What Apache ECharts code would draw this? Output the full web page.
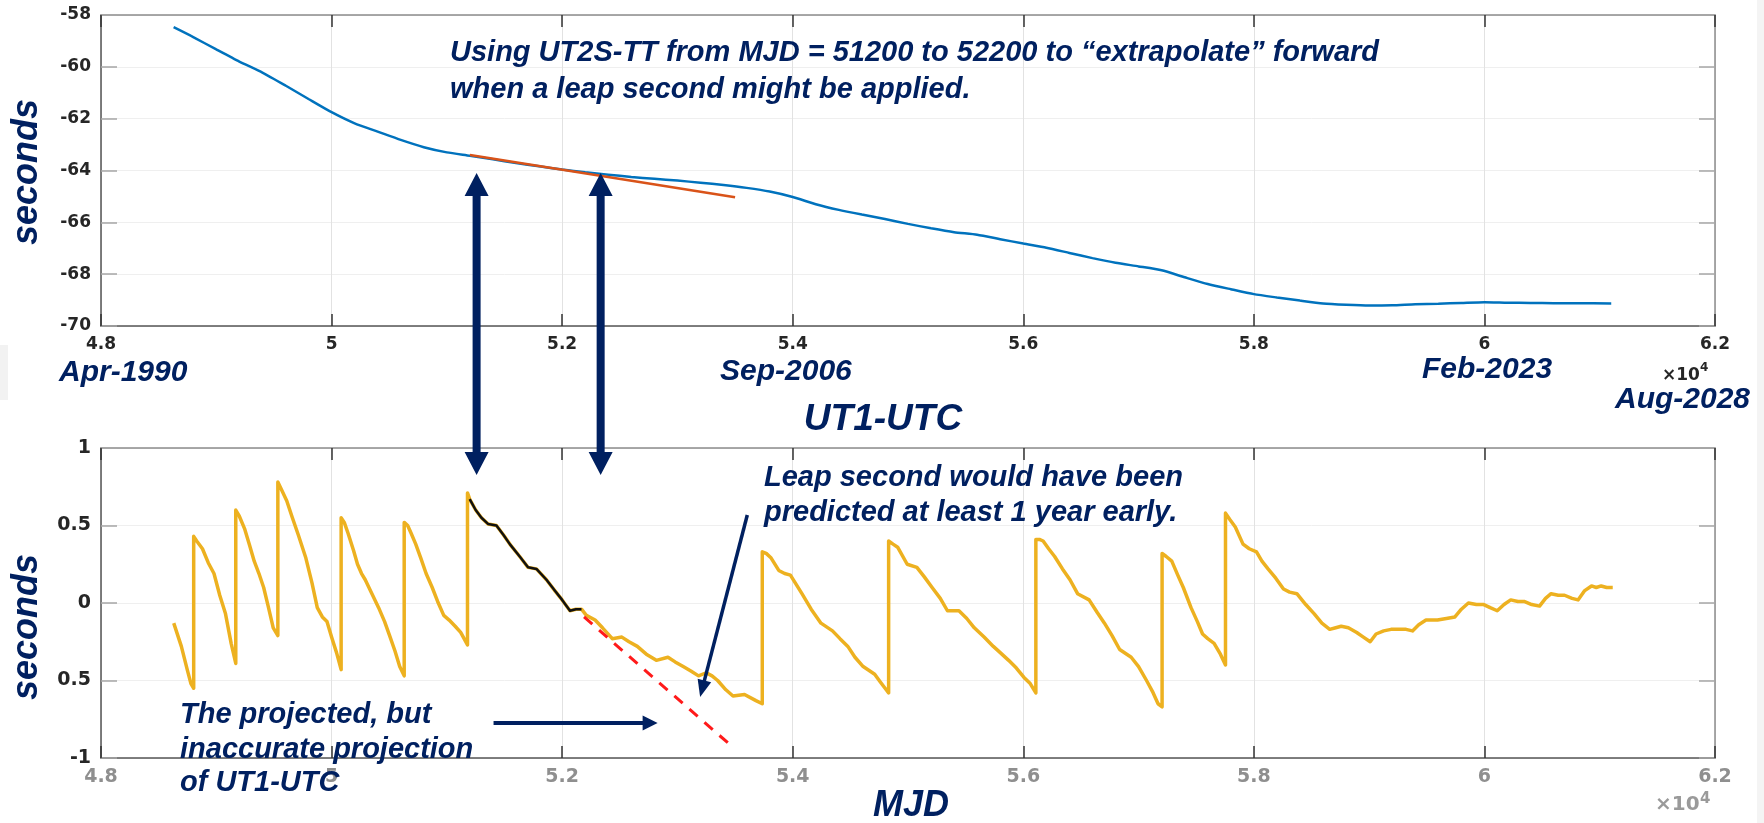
<!DOCTYPE html>
<html><head><meta charset="utf-8">
<script src="https://cdn.jsdelivr.net/npm/echarts@6/dist/echarts.min.js"></script>
<style>html,body{margin:0;padding:0;background:#fff}#c{width:1764px;height:823px}</style>
</head><body><div id="c"></div>
<script>
// ---------------- data ----------------
const xTickLabels = ['4.8','5','5.2','5.4','5.6','5.8','6','6.2'];
const topYTickLabels = ['-70','-68','-66','-64','-62','-60','-58'];
const botYTickLabels = ['-1','0.5','0','0.5','1'];

// UT2S-TT (top, blue)
const ut2sMjd = [48630,48800,49000,49200,49400,49600,49800,50000,50200,50400,50600,50800,51000,51200,51400,51600,51800,52000,52200,52400,52600,52800,53000,53200,53400,53600,53800,54000,54200,54400,54600,54800,55000,55200,55400,55600,55800,56000,56200,56400,56600,56800,57000,57200,57400,57600,57800,58000,58200,58400,58600,58800,59000,59200,59400,59600,59800,60000,60200,60400,60600,60800,61100];
const ut2sVal = [-58.47,-58.85,-59.33,-59.80,-60.22,-60.72,-61.24,-61.75,-62.18,-62.50,-62.82,-63.10,-63.30,-63.43,-63.57,-63.71,-63.84,-63.96,-64.07,-64.16,-64.25,-64.32,-64.39,-64.47,-64.56,-64.67,-64.81,-65.02,-65.30,-65.52,-65.70,-65.87,-66.06,-66.23,-66.38,-66.48,-66.65,-66.82,-66.98,-67.18,-67.38,-67.56,-67.70,-67.85,-68.12,-68.38,-68.58,-68.77,-68.90,-69.02,-69.13,-69.18,-69.21,-69.20,-69.16,-69.14,-69.11,-69.08,-69.10,-69.11,-69.12,-69.12,-69.13];

// linear extrapolation of UT2S-TT (top, orange)
const extrapMjd = [51200, 53500];
const extrapVal = [-63.40, -65.03];

// UT1-UTC (bottom, yellow)
const ut1Mjd = [48631,48697,48748,48780,48804,48804,48830,48880,48930,48980,49030,49080,49129,49169,49169,49200,49245,49290,49329,49370,49411,49450,49494,49534,49534,49560,49611,49660,49711,49777,49830,49876,49920,49960,50000,50043,50083,50083,50110,50143,50190,50225,50260,50292,50350,50408,50460,50508,50550,50591,50630,50630,50660,50690,50730,50774,50820,50873,50920,50973,51020,51072,51120,51179,51179,51198,51250,51300,51357,51430,51490,51546,51632,51704,51777,51864,51936,52000,52068,52120,52168,52210,52286,52350,52435,52518,52580,52652,52730,52817,52918,52980,53050,53120,53183,53250,53300,53349,53420,53482,53582,53681,53736,53736,53770,53813,53879,53930,53980,54030,54080,54160,54245,54345,54410,54478,54540,54611,54711,54760,54811,54832,54832,54870,54910,54993,55077,55140,55209,55280,55342,55442,55510,55575,55660,55740,55800,55873,55940,56006,56060,56109,56109,56140,56172,56220,56272,56340,56405,56471,56571,56640,56704,56770,56836,56936,57000,57069,57120,57169,57204,57204,57240,57288,57340,57388,57455,57510,57555,57600,57655,57710,57754,57754,57790,57839,57906,57960,58023,58070,58123,58190,58257,58310,58373,58450,58524,58590,58658,58710,58758,58820,58892,58950,59009,59060,59126,59190,59259,59320,59376,59430,59493,59593,59670,59744,59800,59861,59930,59994,60050,60111,60170,60228,60290,60344,60410,60478,60530,60578,60640,60695,60760,60812,60870,60929,60970,61013,61060,61113];
const ut1Val = [-0.13,-0.28,-0.43,-0.52,-0.55,0.43,0.40,0.35,0.26,0.19,0.05,-0.07,-0.26,-0.39,0.60,0.56,0.48,0.37,0.27,0.19,0.10,-0.02,-0.16,-0.21,0.78,0.74,0.66,0.55,0.44,0.29,0.13,-0.03,-0.09,-0.12,-0.22,-0.32,-0.43,0.55,0.52,0.45,0.34,0.25,0.19,0.15,0.06,-0.03,-0.12,-0.22,-0.31,-0.41,-0.47,0.52,0.50,0.45,0.38,0.29,0.19,0.10,0.01,-0.08,-0.11,-0.15,-0.19,-0.27,0.71,0.67,0.60,0.55,0.51,0.50,0.44,0.38,0.30,0.23,0.22,0.15,0.08,0.02,-0.05,-0.04,-0.04,-0.08,-0.11,-0.16,-0.23,-0.22,-0.25,-0.28,-0.33,-0.37,-0.35,-0.38,-0.41,-0.44,-0.47,-0.45,-0.47,-0.50,-0.56,-0.60,-0.59,-0.63,-0.65,0.33,0.32,0.29,0.21,0.19,0.18,0.12,0.06,-0.04,-0.13,-0.18,-0.23,-0.28,-0.35,-0.41,-0.46,-0.51,-0.56,-0.58,0.40,0.38,0.36,0.25,0.23,0.17,0.10,0.03,-0.05,-0.05,-0.10,-0.16,-0.22,-0.28,-0.32,-0.37,-0.42,-0.48,-0.52,-0.58,0.41,0.41,0.40,0.35,0.30,0.22,0.15,0.06,0.02,-0.06,-0.13,-0.21,-0.30,-0.35,-0.41,-0.50,-0.57,-0.65,-0.67,0.32,0.30,0.27,0.18,0.10,-0.03,-0.12,-0.20,-0.23,-0.26,-0.33,-0.40,0.58,0.54,0.49,0.38,0.35,0.33,0.27,0.22,0.16,0.09,0.07,0.06,-0.01,-0.07,-0.13,-0.17,-0.16,-0.15,-0.16,-0.19,-0.22,-0.25,-0.20,-0.18,-0.17,-0.17,-0.17,-0.18,-0.14,-0.11,-0.11,-0.10,-0.09,-0.04,0.00,-0.01,-0.01,-0.03,-0.05,-0.01,0.02,0.01,0.01,-0.01,-0.02,0.03,0.06,0.05,0.05,0.03,0.02,0.08,0.11,0.10,0.11,0.10,0.10];

// fit window (black overlay) and projected UT1-UTC (red dashed)
const fitRange = [51190, 52200];
const projMjd = [52190, 53465];
const projVal = [-0.09, -0.92];

// annotation anchors (data units)
const arrowMjd = [51258, 52334];
const arrowTopVal = -64.10;
const arrowBotVal = 0.826;
const horizArrow = [[51405, -0.774], [52828, -0.774]];
const diagArrow = [[53606, 0.568], [53197, -0.606]];

// ---------------- chart ----------------
const chart = echarts.init(document.getElementById('c'), null, {renderer: 'canvas'});
const navy = '#002060';
const FF = '"Liberation Sans", Arial, sans-serif';
const TF = '"DejaVu Sans", sans-serif';
const pairs = (xs, ys) => xs.map((x, i) => [x, ys[i]]);

function xAx(gridIndex, position, showLabel, color, size) {
  return {
    type: 'value', gridIndex, position, min: 48000, max: 62000, interval: 2000,
    axisLine: {show: true, onZero: false, lineStyle: {color: position === 'bottom' ? '#555' : '#8c8c8c', width: 1.5}},
    axisTick: {show: true, inside: true, length: 12, lineStyle: {color: '#333', width: 1.5}},
    axisLabel: {show: showLabel, margin: 10, color, fontSize: size, fontWeight: 'bold', fontFamily: TF,
      showMinLabel: true, showMaxLabel: true,
      formatter: v => xTickLabels[Math.round((v - 48000) / 2000)]},
    splitLine: {show: position === 'bottom', lineStyle: {color: '#e2e2e2', width: 1}}
  };
}
function yAx(gridIndex, position, min, max, interval, labels, size) {
  return {
    type: 'value', gridIndex, position, min, max, interval,
    axisLine: {show: true, onZero: false, lineStyle: {color: position === 'left' ? '#555' : '#8c8c8c', width: 1.5}},
    axisTick: {show: true, inside: true, length: 16, lineStyle: {color: '#a6a6a6', width: 1.5}},
    axisLabel: {show: !!labels, margin: 10, color: '#262626', fontSize: size, fontWeight: 'bold', fontFamily: TF,
      showMinLabel: true, showMaxLabel: true,
      formatter: v => labels ? labels[Math.round((v - min) / interval)] : ''},
    splitLine: {show: position === 'left', lineStyle: {color: '#efefef', width: 1}}
  };
}

const blackData = pairs(ut1Mjd, ut1Val).filter(p => p[0] >= fitRange[0] && p[0] <= fitRange[1]);

chart.setOption({
  animation: false,
  backgroundColor: '#ffffff',
  grid: [
    {left: 101, top: 15, width: 1614, height: 311, containLabel: false, outerBoundsMode: 'none'},
    {left: 101, top: 448, width: 1614, height: 310, containLabel: false, outerBoundsMode: 'none'}
  ],
  xAxis: [
    xAx(0, 'bottom', true, '#262626', 17),
    xAx(0, 'top', false, '#262626', 17),
    xAx(1, 'bottom', true, '#8f8f8f', 19),
    xAx(1, 'top', false, '#8f8f8f', 19)
  ],
  yAxis: [
    yAx(0, 'left', -70, -58, 2, topYTickLabels, 17),
    yAx(0, 'right', -70, -58, 2, null, 17),
    yAx(1, 'left', -1, 1, 0.5, botYTickLabels, 19),
    yAx(1, 'right', -1, 1, 0.5, null, 19)
  ],
  series: [
    {type: 'line', xAxisIndex: 0, yAxisIndex: 0, data: pairs(ut2sMjd, ut2sVal), showSymbol: false, smooth: 0.2,
      lineStyle: {color: '#0072BD', width: 2.5}, z: 2},
    {type: 'line', xAxisIndex: 0, yAxisIndex: 0, data: pairs(extrapMjd, extrapVal), showSymbol: false,
      lineStyle: {color: '#D95319', width: 2.5}, z: 3},
    {type: 'line', xAxisIndex: 2, yAxisIndex: 2, data: pairs(ut1Mjd, ut1Val), showSymbol: false,
      lineStyle: {color: '#EDB120', width: 3.5, join: 'round'}, z: 2},
    {type: 'line', xAxisIndex: 2, yAxisIndex: 2, data: blackData, showSymbol: false,
      lineStyle: {color: '#111111', width: 2.5, join: 'round'}, z: 4},
    {type: 'line', xAxisIndex: 2, yAxisIndex: 2, data: pairs(projMjd, projVal), showSymbol: false,
      lineStyle: {color: '#ff1a1a', width: 3, type: [11, 9]}, z: 3}
  ]
});

// ---------------- annotations ----------------
const topPx = p => chart.convertToPixel({seriesIndex: 0}, p);
const botPx = p => chart.convertToPixel({seriesIndex: 2}, p);
const g = [];
function T(text, x, y, size, align, rot) {
  g.push({type: 'text', x, y, rotation: rot || 0, z: 100,
    style: {text, fill: navy, fontSize: size, fontWeight: 'bold', fontStyle: 'italic', fontFamily: FF,
      textAlign: align || 'left', textVerticalAlign: 'middle'}});
}
function plain(text, x, y, size, color) {
  g.push({type: 'text', x, y, z: 100,
    style: {text, fill: color, fontSize: size, fontWeight: 'bold', fontFamily: TF, textAlign: 'left', textVerticalAlign: 'middle'}});
}
// double vertical arrows
arrowMjd.forEach(m => {
  const [x, yt] = topPx([m, arrowTopVal]);
  const yb = botPx([m, arrowBotVal])[1];
  const hw = 12, hh = 23, sw = 4;
  g.push({type: 'polygon', z: 100, shape: {points: [
    [x, yt], [x + hw, yt + hh], [x + sw, yt + hh], [x + sw, yb - hh], [x + hw, yb - hh],
    [x, yb], [x - hw, yb - hh], [x - sw, yb - hh], [x - sw, yt + hh], [x - hw, yt + hh]]},
    style: {fill: navy}});
});
function arrow(a, b, lw, hl, hwid) {
  const [x0, y0] = botPx(a), [x1, y1] = botPx(b);
  const dx = x1 - x0, dy = y1 - y0, L = Math.hypot(dx, dy), ux = dx / L, uy = dy / L;
  const bx = x1 - ux * hl, by = y1 - uy * hl;
  g.push({type: 'line', z: 100, shape: {x1: x0, y1: y0, x2: bx + ux * 2, y2: by + uy * 2}, style: {stroke: navy, lineWidth: lw}});
  g.push({type: 'polygon', z: 100, shape: {points: [[x1, y1], [bx - uy * hwid, by + ux * hwid], [bx + uy * hwid, by - ux * hwid]]}, style: {fill: navy}});
}
arrow(horizArrow[0], horizArrow[1], 4, 15, 7.5);
arrow(diagArrow[0], diagArrow[1], 3.5, 17, 7);

// texts
T('seconds', 27, 172, 36, 'center', Math.PI / 2);
T('seconds', 27, 627, 36, 'center', Math.PI / 2);
T('Using UT2S-TT from MJD = 51200 to 52200 to \u201cextrapolate\u201d forward', 450, 53, 29);
T('when a leap second might be applied.', 450, 90, 29);
T('Apr-1990', 59, 373, 30);
T('Sep-2006', 720, 372, 30);
T('Feb-2023', 1422, 370, 30);
T('Aug-2028', 1615, 400, 30);
T('UT1-UTC', 883, 420, 37, 'center');
T('MJD', 911, 806, 36, 'center');
T('Leap second would have been', 764, 478, 29);
T('predicted at least 1 year early.', 764, 513, 29);
T('The projected, but', 180, 715, 29);
T('inaccurate projection', 180, 750, 29);
T('of UT1-UTC', 180, 783, 29);
plain('\u00d710', 1662, 376, 17, '#262626');
plain('4', 1700, 368, 12, '#262626');
plain('\u00d710', 1655, 805, 20, '#9a9a9a');
plain('4', 1700, 799, 15, '#9a9a9a');
// faint page-edge strips
g.push({type: 'rect', z: 0, shape: {x: 1757, y: 0, width: 7, height: 823}, style: {fill: '#f4f4f4'}});
g.push({type: 'rect', z: 0, shape: {x: 0, y: 345, width: 8, height: 55}, style: {fill: '#f2f2f2'}});

chart.setOption({graphic: g});
</script></body></html>
